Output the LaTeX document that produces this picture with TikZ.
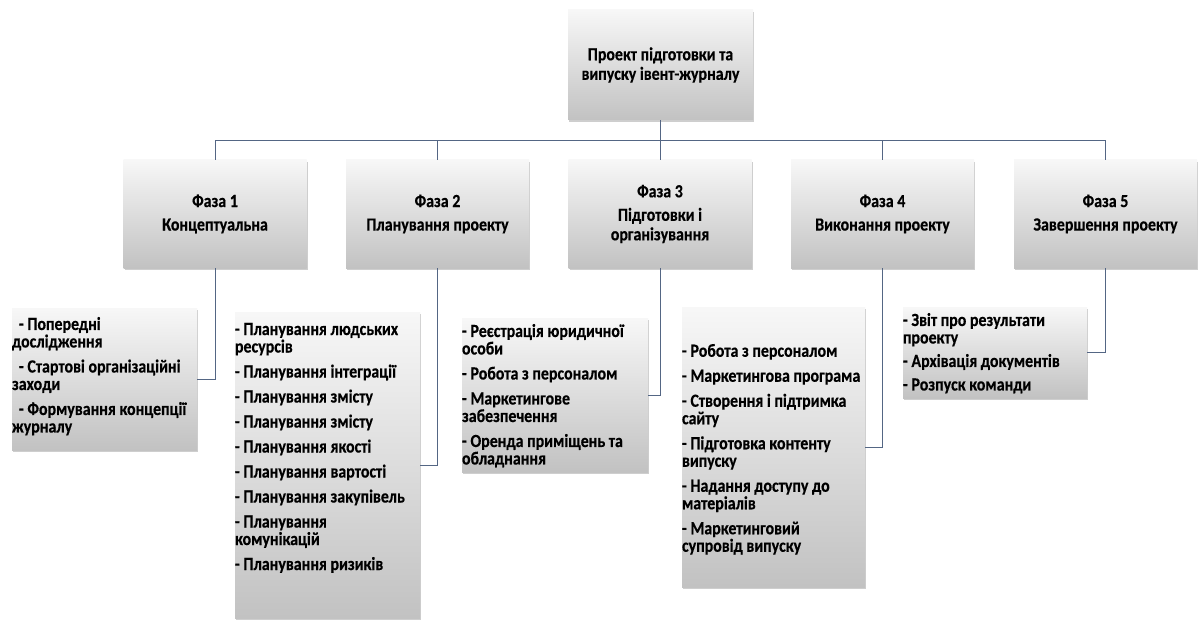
\documentclass[tikz,border=0pt]{standalone}
\usepackage{fontspec}
\setmainfont{Carlito}[FakeStretch=0.86, BoldFeatures={FakeBold=0.4}]
\usetikzlibrary{shadows}
\definecolor{linkc}{RGB}{84,102,132}
\tikzset{
  card/.style={rectangle, inner sep=0pt, draw=none,
    top color=white!97!black, bottom color=black!24,
    drop shadow={shadow xshift=1.2pt, shadow yshift=-2.2pt, opacity=0.35, fill=black!55}},
  headcard/.style={card, align=center, font=\fontsize{18.5}{17.5}\selectfont\bfseries},
  listtext/.style={inner sep=0pt, align=left, anchor=north west,
    font=\fontsize{18.5}{17.5}\selectfont\bfseries},
  link/.style={draw=linkc, line width=0.9pt}
}
\begin{document}
\begin{tikzpicture}[x=1pt,y=-1pt]
  \useasboundingbox (0,0) rectangle (1198,620);
  \fill[white] (0,0) rectangle (1198,620);

  % root of the breakdown
  \node[headcard, minimum width=185pt, minimum height=110pt] (root) at (660.5,65)
    {Проект підготовки та\\[2pt]випуску івент-журналу};

  % project phases
  \foreach \n/\cx/\txt in {
      1/215/{Фаза 1\\[6pt]Концептуальна},
      2/437.5/{Фаза 2\\[6pt]Планування проекту},
      3/660/{Фаза 3\\[6pt]Підготовки і\\[2pt]організування},
      4/882.5/{Фаза 4\\[6pt]Виконання проекту},
      5/1105.5/{Фаза 5\\[6pt]Завершення проекту}}
    \node[headcard, minimum width=183pt, minimum height=108pt] (p\n) at (\cx,214) {\txt};

  % work packages of each phase
  \node[card, minimum width=185pt, minimum height=142pt] (b1) at (104.5,379) {};
  \node[card, minimum width=185pt, minimum height=306pt] (b2) at (327.5,465) {};
  \node[card, minimum width=186pt, minimum height=154pt] (b3) at (555,395) {};
  \node[card, minimum width=183pt, minimum height=280pt] (b4) at (773.5,447) {};
  \node[card, minimum width=184pt, minimum height=91pt] (b5) at (995,352.5) {};

  \node[listtext] (t1) at ([yshift=-9pt]b1.north west)
    {\hspace*{7pt}- Попередні\\дослідження\\[7.5pt]%
     \hspace*{7pt}- Стартові організаційні\\заходи\\[7.5pt]%
     \hspace*{7pt}- Формування концепції\\журналу};
  \node[listtext] (t2) at ([yshift=-11pt]b2.north west)
    {- Планування людських\\ресурсів\\[7.5pt]%
     - Планування інтеграції\\[7.5pt]%
     - Планування змісту\\[7.5pt]%
     - Планування змісту\\[7.5pt]%
     - Планування якості\\[7.5pt]%
     - Планування вартості\\[7.5pt]%
     - Планування закупівель\\[7.5pt]%
     - Планування\\комунікацій\\[7.5pt]%
     - Планування ризиків};
  \node[listtext] (t3) at ([yshift=-6pt]b3.north west)
    {- Реєстрація юридичної\\особи\\[7.5pt]%
     - Робота з персоналом\\[7.5pt]%
     - Маркетингове\\забезпечення\\[7.5pt]%
     - Оренда приміщень та\\обладнання};
  \node[listtext] (t4) at ([yshift=-37pt]b4.north west)
    {- Робота з персоналом\\[7.5pt]%
     - Маркетингова програма\\[7.5pt]%
     - Створення і підтримка\\сайту\\[7.5pt]%
     - Підготовка контенту\\випуску\\[7.5pt]%
     - Надання доступу до\\матеріалів\\[7.5pt]%
     - Маркетинговий\\супровід випуску};
  \node[listtext] (t5) at ([yshift=-6pt]b5.north west)
    {- Звіт про результати\\проекту\\[6pt]%
     - Архівація документів\\[6pt]%
     - Розпуск команди};

  % connectors
  \coordinate (bus) at (0,140);
  \draw[link] (root.south) -- (root.south |- bus);
  \draw[link] (p1.north |- bus) -- (p5.north |- bus);
  \foreach \n in {1,...,5} {
    \draw[link] (p\n.north) -- (p\n.north |- bus);
    \draw[link] (p\n.south) |- (b\n.east);
  }
\end{tikzpicture}
\end{document}
